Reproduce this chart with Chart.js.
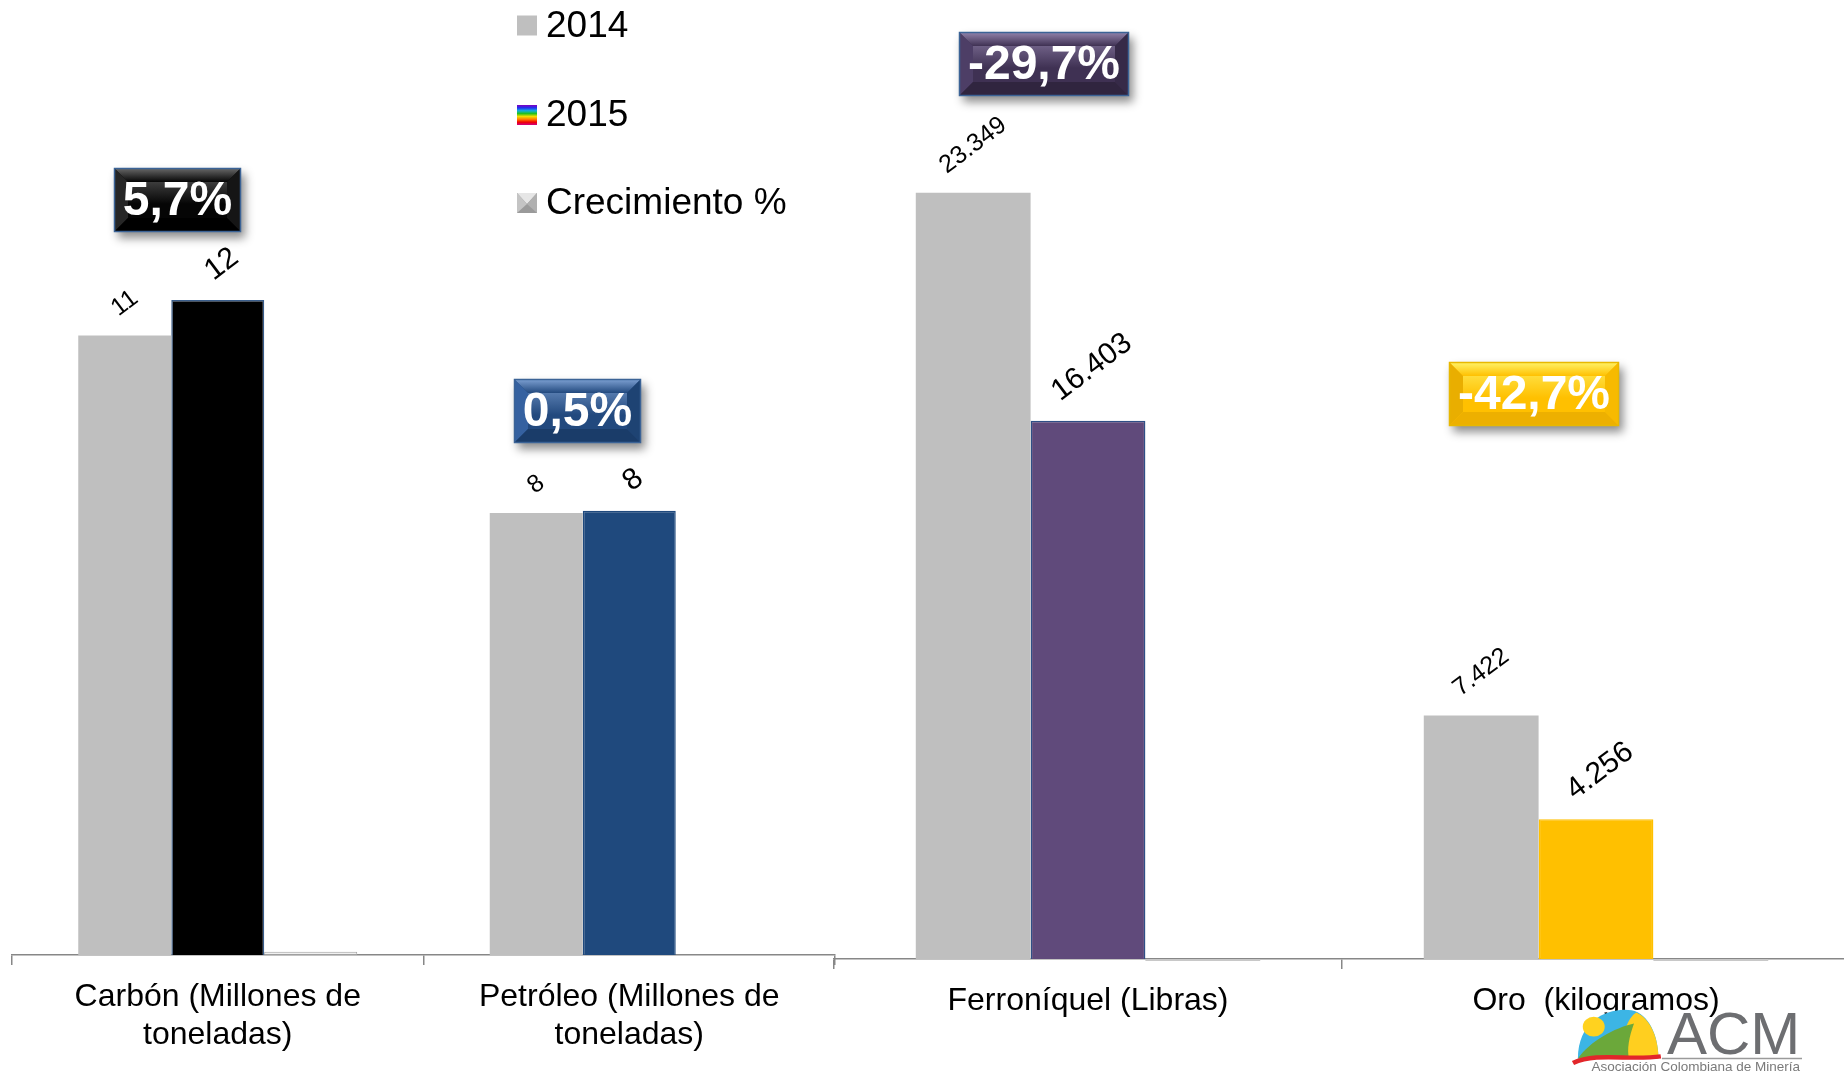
<!DOCTYPE html>
<html><head><meta charset="utf-8">
<script src="https://cdn.jsdelivr.net/npm/chart.js@4.4.1/dist/chart.umd.min.js"></script>
<style>
html,body{margin:0;padding:0;width:1844px;height:1071px;overflow:hidden;background:#fff;}
#c1{position:absolute;left:0;top:0;}
#c2{position:absolute;left:820px;top:0;}
</style></head><body>
<canvas id="c1" width="837" height="1071"></canvas>
<canvas id="c2" width="1030" height="1071"></canvas>
<script>
// ---------- data ----------
const seriesNames = ['2014', '2015', 'Crecimiento %'];
const leftCategories = [['Carbón (Millones de', 'toneladas)'], ['Petróleo (Millones de', 'toneladas)']];
const left2014 = [11.2, 7.99];
const left2015 = [11.84, 8.03];
const leftGrowth = [0.057, 0.005];
const rightCategories = ['Ferroníquel (Libras)', 'Oro  (kilogramos)'];
const right2014 = [23349, 7422];
const right2015 = [16403, 4256];
const rightGrowth = [-0.297, -0.427];

// ---------- layout / style ----------
const leftAxisMax = 16;
const rightAxisMax = 28000;
const leftBoxAt = [13.65, 9.83];
const rightBoxAt = [27280, 17200];
const leftBoxDx = [6, -5];
const rightBoxDx = [13, -5];
const FONT = '"Liberation Sans", Arial, Helvetica, sans-serif';
const GREY14 = '#BFBFBF';
const left2015Colors = ['#000000', '#1F497D'];
const left2015Borders = ['#3A5E8C', '#1F497D'];
const right2015Colors = ['#604A7B', '#FFC000'];
const right2015Borders = ['#2F4F86', '#FFC000'];
const boxStyles = {
  black:  {base:'#050505', top:'#6a6a6a', left:'#262626', right:'#151515', bottom:'#000000', border:'#3B6396'},
  blue:   {base:'#22497E', top:'#7FA2D4', left:'#3561A0', right:'#1E4373', bottom:'#1A3C69', border:'#3B6396'},
  purple: {base:'#3F3153', top:'#9485AE', left:'#4D3E66', right:'#362A48', bottom:'#30253F', border:'#3B6396'},
  gold:   {base:'#FFC000', top:'#FFF46A', left:'#E9AE00', right:'#F7BA00', bottom:'#EDB000', border:'#E8B800'}
};
const leftBoxStyles = ['black', 'blue'];
const rightBoxStyles = ['purple', 'gold'];

function fmtSmall(v){ return String(Math.round(v)); }
function fmtThousands(v){ return String(Math.round(v)).replace(/\B(?=(\d{3})+(?!\d))/g, '.'); }
function fmtGrowth(g){ return (g*100).toFixed(1).replace('.', ',') + '%'; }

function makeValueLabels(format){
  return {
    id: 'valueLabels',
    afterDatasetsDraw(chart){
      const ctx = chart.ctx;
      [0, 1].forEach(di => {
        const meta = chart.getDatasetMeta(di);
        const ds = chart.data.datasets[di];
        const size = di === 0 ? 25 : 30;
        const th = 37 * Math.PI / 180;
        ctx.save();
        ctx.font = size + 'px ' + FONT;
        ctx.fillStyle = '#000';
        ctx.textAlign = 'center';
        ctx.textBaseline = 'middle';
        meta.data.forEach((bar, i) => {
          const txt = format(ds.data[i]);
          const w = ctx.measureText(txt).width;
          const h = size * 0.72;
          const off = 17 + (w/2) * Math.sin(th) + (h/2) * Math.cos(th);
          ctx.save();
          ctx.translate(bar.x + (di === 1 ? 4 : 0), bar.y - off);
          ctx.rotate(-th);
          ctx.fillText(txt, 0, 0);
          ctx.restore();
        });
        ctx.restore();
      });
    }
  };
}

function poly(ctx, pts, fill){
  ctx.beginPath();
  ctx.moveTo(pts[0][0], pts[0][1]);
  for (let k = 1; k < pts.length; k++) ctx.lineTo(pts[k][0], pts[k][1]);
  ctx.closePath();
  ctx.fillStyle = fill;
  ctx.fill();
}

function bevelBox(ctx, cx, cy, text, st){
  ctx.save();
  ctx.font = 'bold 48px ' + FONT;
  const tw = ctx.measureText(text).width;
  const w = Math.round(tw + 18), h = 64;
  const x = Math.round(cx - w/2), y = Math.round(cy - h/2), b = 14;
  ctx.save();
  ctx.shadowColor = 'rgba(0,0,0,0.45)';
  ctx.shadowBlur = 9; ctx.shadowOffsetX = 4; ctx.shadowOffsetY = 6;
  ctx.fillStyle = st.base;
  ctx.fillRect(x, y, w, h);
  ctx.restore();
  const gTop = ctx.createLinearGradient(0, y, 0, y + b);
  gTop.addColorStop(0, st.top); gTop.addColorStop(1, st.base);
  poly(ctx, [[x, y], [x+w, y], [x+w-b, y+b], [x+b, y+b]], gTop);
  poly(ctx, [[x, y], [x+b, y+b], [x+b, y+h-b], [x, y+h]], st.left);
  poly(ctx, [[x+w, y], [x+w, y+h], [x+w-b, y+h-b], [x+w-b, y+b]], st.right);
  poly(ctx, [[x, y+h], [x+b, y+h-b], [x+w-b, y+h-b], [x+w, y+h]], st.bottom);
  const gIn = ctx.createLinearGradient(0, y+b, 0, y+h/2+4);
  gIn.addColorStop(0, st.top); gIn.addColorStop(1, st.base);
  ctx.globalAlpha = 0.55;
  ctx.fillStyle = gIn;
  ctx.fillRect(x+b, y+b, w-2*b, h/2+4-b);
  ctx.globalAlpha = 1;
  poly(ctx, [[x+b, y+h/2+4], [x+w-b, y+h/2+4], [x+w-b, y+h-b], [x+b, y+h-b]], st.base);
  ctx.strokeStyle = st.border; ctx.lineWidth = 1.5;
  ctx.strokeRect(x + 0.5, y + 0.5, w - 1, h - 1);
  ctx.fillStyle = '#FFFFFF';
  ctx.textAlign = 'center'; ctx.textBaseline = 'middle';
  ctx.fillText(text, x + w/2, y + h/2 + 2);
  ctx.restore();
}

function makeGrowthBoxes(boxAt, boxDx, styles){
  return {
    id: 'growthBoxes',
    afterDraw(chart){
      const ctx = chart.ctx;
      const m1 = chart.getDatasetMeta(1);
      const growth = chart.data.datasets[2].data;
      const ys = chart.scales.y;
      m1.data.forEach((bar, i) => {
        const cx = bar.x - bar.width/2 + boxDx[i];
        const cy = ys.getPixelForValue(boxAt[i]);
        bevelBox(ctx, cx, cy, fmtGrowth(growth[i]), boxStyles[styles[i]]);
      });
    }
  };
}

const legendPlugin = {
  id: 'customLegend',
  afterDraw(chart){
    const ctx = chart.ctx;
    const ys = [25.5, 115, 203];
    const ix = 517, sz = 20;
    ctx.save();
    chart.data.datasets.forEach((ds, i) => {
      const y0 = ys[i] - sz/2;
      if (i === 0){
        ctx.fillStyle = GREY14; ctx.fillRect(ix, y0, sz, sz);
      } else if (i === 1){
        const g = ctx.createLinearGradient(0, y0, 0, y0 + sz);
        ['#8000C0','#2030F0','#10B0E0','#20C020','#F0E000','#FF8000','#F00000','#D00080']
          .forEach((c, k, a) => g.addColorStop(k/(a.length-1), c));
        ctx.fillStyle = g; ctx.fillRect(ix, y0, sz, sz);
      } else {
        ctx.fillStyle = '#9A9A9A'; ctx.fillRect(ix, y0, sz, sz);
        poly(ctx, [[ix, y0], [ix+sz, y0], [ix+sz/2, y0+sz*0.55]], '#E6E6E6');
        poly(ctx, [[ix, y0], [ix+sz/2, y0+sz*0.55], [ix, y0+sz]], '#C4C4C4');
        poly(ctx, [[ix+sz, y0], [ix+sz, y0+sz], [ix+sz/2, y0+sz*0.55]], '#B0B0B0');
      }
      ctx.fillStyle = '#000';
      ctx.font = '37px ' + FONT;
      ctx.textAlign = 'left'; ctx.textBaseline = 'middle';
      ctx.fillText(ds.label, 546, ys[i] + 1);
    });
    ctx.restore();
  }
};

const logoPlugin = {
  id: 'logo',
  afterDraw(chart){
    const ctx = chart.ctx;
    ctx.save();
    ctx.translate(753, 1008);
    ctx.scale(1.22, 1.1);
    // blue dome
    ctx.beginPath();
    ctx.moveTo(4, 46);
    ctx.bezierCurveTo(4, 10, 30, -1, 48, 2);
    ctx.bezierCurveTo(62, 5, 70, 25, 70, 46);
    ctx.closePath();
    ctx.fillStyle = '#3CB5E5'; ctx.fill();
    // yellow right part
    ctx.beginPath();
    ctx.moveTo(36, 46);
    ctx.bezierCurveTo(40, 25, 45, 8, 52, 4);
    ctx.bezierCurveTo(64, 10, 70, 28, 70, 46);
    ctx.closePath();
    ctx.fillStyle = '#FFCF1F'; ctx.fill();
    // green hill
    ctx.beginPath();
    ctx.moveTo(4, 46);
    ctx.bezierCurveTo(14, 30, 34, 18, 50, 14);
    ctx.bezierCurveTo(46, 26, 44, 38, 46, 46);
    ctx.closePath();
    ctx.fillStyle = '#6BA83A'; ctx.fill();
    // sun
    ctx.beginPath(); ctx.arc(17, 17, 9, 0, Math.PI*2);
    ctx.fillStyle = '#FFD21F'; ctx.fill();
    // red swoosh
    ctx.beginPath();
    ctx.moveTo(0, 50);
    ctx.bezierCurveTo(20, 40, 45, 48, 72, 44);
    ctx.lineWidth = 4; ctx.strokeStyle = '#E2262A'; ctx.stroke();
    ctx.restore();
    ctx.save();
    // ACM text
    ctx.fillStyle = '#6D6E71';
    ctx.font = '60px ' + FONT;
    ctx.textAlign = 'left'; ctx.textBaseline = 'alphabetic';
    ctx.fillText('ACM', 847, 1054);
    ctx.strokeStyle = '#9A9A9A'; ctx.lineWidth = 1.5;
    ctx.beginPath(); ctx.moveTo(842, 1058.5); ctx.lineTo(982, 1058.5); ctx.stroke();
    ctx.fillStyle = '#7A7A7A';
    ctx.font = '13.5px ' + FONT;
    ctx.textAlign = 'right';
    ctx.fillText('Asociación Colombiana de Minería', 980, 1071);
    ctx.restore();
  }
};

function xScale(h){
  return {
    offset: true,
    grid: {display: true, drawOnChartArea: false, drawTicks: true, tickLength: 10, color: '#878787', lineWidth: 1.5},
    border: {display: true, color: '#878787', width: 1.5},
    ticks: {font: {family: FONT, size: 32}, color: '#000', padding: 13, autoSkip: false, maxRotation: 0, minRotation: 0},
    afterFit(s){ s.height = h; }
  };
}

Chart.defaults.font.family = FONT;

new Chart(document.getElementById('c1'), {
  type: 'bar',
  data: {
    labels: leftCategories,
    datasets: [
      {label: seriesNames[0], data: left2014, backgroundColor: GREY14, borderWidth: 0},
      {label: seriesNames[1], data: left2015, backgroundColor: left2015Colors, borderColor: left2015Borders, borderWidth: 1.5},
      {label: seriesNames[2], data: leftGrowth, backgroundColor: '#F0F0F0', borderColor: '#A0A0A0', borderWidth: 1, borderSkipped: false}
    ]
  },
  options: {
    responsive: false, animation: false, devicePixelRatio: 1,
    layout: {padding: {left: 12, right: 2, top: 70, bottom: 0}},
    datasets: {bar: {categoryPercentage: 0.678, barPercentage: 1}},
    plugins: {legend: {display: false}, tooltip: {enabled: false}},
    scales: {x: xScale(116), y: {display: false, min: 0, max: leftAxisMax}}
  },
  plugins: [makeValueLabels(fmtSmall), makeGrowthBoxes(leftBoxAt, leftBoxDx, leftBoxStyles), legendPlugin]
});

new Chart(document.getElementById('c2'), {
  type: 'bar',
  data: {
    labels: rightCategories,
    datasets: [
      {label: seriesNames[0], data: right2014, backgroundColor: GREY14, borderWidth: 0},
      {label: seriesNames[1], data: right2015, backgroundColor: right2015Colors, borderColor: right2015Borders, borderWidth: 1.5},
      {label: seriesNames[2], data: rightGrowth, backgroundColor: '#C8C8C8', borderWidth: 0, minBarLength: 2, clip: false}
    ]
  },
  options: {
    responsive: false, animation: false, devicePixelRatio: 1,
    layout: {padding: {left: 14, right: 0, top: 40, bottom: 0}},
    datasets: {bar: {categoryPercentage: 0.678, barPercentage: 1}},
    plugins: {legend: {display: false}, tooltip: {enabled: false}},
    scales: {x: xScale(112), y: {display: false, min: 0, max: rightAxisMax}}
  },
  plugins: [makeValueLabels(fmtThousands), makeGrowthBoxes(rightBoxAt, rightBoxDx, rightBoxStyles), logoPlugin]
});
</script>
</body></html>
